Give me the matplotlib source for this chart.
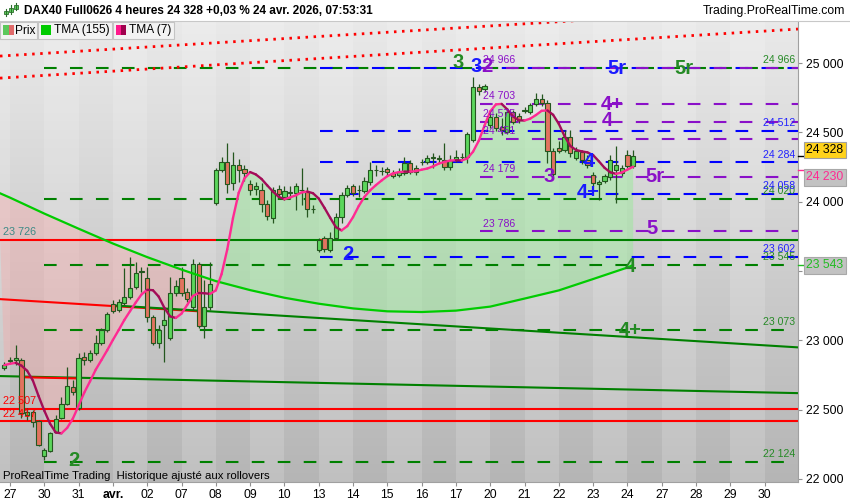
import numpy as np
import pandas as pd
import matplotlib
matplotlib.use('Agg')
import matplotlib.pyplot as plt
from matplotlib.patches import Rectangle
from matplotlib.collections import LineCollection
from matplotlib.lines import Line2D

plt.rcParams['font.family'] = ['Liberation Sans', 'DejaVu Sans']
plt.rcParams['lines.scale_dashes'] = False

# ---------------- data ----------------
day_labels = ['27', '30', '31', 'avr.', '02', '07', '08', '09', '10', '13', '14', '15',
              '16', '17', '20', '21', '22', '23', '24', '27', '28', '29', '30']
candles_per_day = 6
first_candle = -1

opens = [22800, 22857, 22857, 22857, 22461, 22482, 22417, 22165, 22201, 22338, 22439, 22540,
         22663, 22511, 22879, 22857, 22908, 22980, 23074, 23261, 23218, 23268, 23312, 23384,
         23492, 23449, 23167, 22980, 23110, 23016, 23341, 23449, 23348, 23240, 23550, 23103,
         23240, 23990, 24228, 24286, 24134, 24264, 24235, 24127, 24091, 24084, 23983, 23882,
         24091, 24033, 24069, 24062, 24084, 24069, 23947, 23651, 23737, 23651, 23737, 23889,
         24048, 24112, 24084, 24076, 24141, 24228, 24221, 24235, 24206, 24192, 24206, 24278,
         24242, 24286, 24286, 24314, 24314, 24300, 24250, 24300, 24322, 24322, 24444, 24827,
         24812, 24552, 24610, 24538, 24502, 24646, 24617, 24653, 24646, 24704, 24740, 24711,
         24365, 24386, 24372, 24466, 24314, 24358, 24300, 24192, 24127, 24149, 24177, 24228,
         24206, 24336, 24257]
highs = [22843, 22879, 22966, 22872, 22511, 22497, 22425, 22223, 22338, 22461, 22591, 22807,
         22713, 22908, 22915, 22930, 23038, 23088, 23203, 23290, 23297, 23521, 23600, 23564,
         23528, 23528, 23182, 23110, 23240, 23456, 23434, 23528, 23377, 23586, 23564, 23434,
         23564, 24242, 24322, 24423, 24358, 24307, 24264, 24156, 24141, 24134, 24011, 24105,
         24120, 24112, 24112, 24134, 24242, 24105, 23975, 23737, 23752, 23781, 23918, 24069,
         24120, 24127, 24120, 24177, 24286, 24264, 24250, 24250, 24228, 24242, 24322, 24300,
         24264, 24307, 24336, 24350, 24336, 24423, 24336, 24372, 24350, 24502, 24899, 24848,
         24848, 24646, 24639, 24603, 24675, 24661, 24639, 24682, 24711, 24783, 24776, 24733,
         24386, 24437, 24516, 24516, 24394, 24372, 24336, 24213, 24156, 24199, 24336, 24401,
         24264, 24372, 24372]
lows = [22785, 22836, 22821, 22439, 22425, 22374, 22237, 22136, 22194, 22331, 22432, 22533,
        22605, 22497, 22821, 22843, 22893, 22966, 23059, 23196, 23203, 23254, 23297, 23370,
        23348, 23131, 22966, 22944, 22843, 23002, 23319, 23319, 23276, 23218, 23088, 23016,
        23218, 23975, 24213, 24062, 24084, 24141, 24149, 24048, 24048, 23925, 23867, 23846,
        24033, 24011, 24019, 23939, 23975, 23889, 23918, 23636, 23636, 23636, 23723, 23846,
        24033, 24041, 24033, 24062, 24120, 24184, 24192, 24192, 24170, 24177, 24192, 24199,
        24192, 24264, 24271, 24242, 24278, 24228, 24228, 24286, 24300, 24278, 24430, 24769,
        24790, 24531, 24509, 24480, 24488, 24560, 24567, 24639, 24632, 24689, 24689, 24278,
        24177, 24350, 24358, 24322, 24300, 24271, 24242, 24112, 24011, 24134, 24156, 23990,
        24184, 24242, 24242]
closes = [22821, 22860, 22872, 22475, 22482, 22410, 22244, 22208, 22331, 22432, 22540, 22670,
          22627, 22872, 22857, 22908, 22980, 23074, 23189, 23211, 23276, 23312, 23377, 23485,
          23499, 23167, 22980, 23074, 23146, 23341, 23391, 23341, 23297, 23550, 23103, 23240,
          23406, 24228, 24286, 24127, 24264, 24228, 24206, 24084, 24112, 23983, 23896, 24084,
          24055, 24076, 24072, 24112, 24086, 23947, 23950, 23723, 23658, 23737, 23889, 24048,
          24098, 24062, 24086, 24149, 24228, 24230, 24223, 24213, 24184, 24213, 24278, 24213,
          24213, 24288, 24314, 24322, 24307, 24250, 24300, 24322, 24325, 24488, 24827, 24798,
          24834, 24610, 24531, 24516, 24646, 24574, 24588, 24661, 24697, 24740, 24711, 24365,
          24199, 24365, 24466, 24350, 24365, 24300, 24264, 24134, 24141, 24184, 24300, 24264,
          24242, 24257, 24328]

tma155_idx = [-2, 0, 6, 12, 18, 24, 30, 36, 42, 48, 54, 60, 66, 72, 78, 84, 90, 96, 102, 108, 109]
tma155_val = [24065, 24029, 23914, 23805, 23698, 23600, 23510, 23427, 23362, 23307, 23264,
              23230, 23209, 23204, 23214, 23243, 23301, 23360, 23442, 23525, 23543]

green_levels = [24966, 24020, 23545, 23073, 22124]
blue_levels = [24966, 24512, 24284, 24058, 23602]
purple_levels = [24966, 24703, 24575, 24451, 24179, 23786]
red_levels = [22507, 22417]
split_level = 23726
channel_upper = [(-1.75, 25050), (137.83, 25404)]
channel_lower = [(-1.75, 24891), (137.83, 25245)]
trend_a = [(-1.75, 23297), (137.83, 22944)]
trend_b = [(-1.75, 22742), (137.83, 22619)]
last_price = 24328
tma7_last = 24230
tma155_last = 23543
y_ticks = [22000, 22500, 23000, 23500, 24000, 24500, 25000]

# ---------------- layout helpers ----------------
FW, FH = 850, 500
X0, DX = 10.0, 5.717          # pixel of candle 0, pixels per candle
def ix(px):                   # pixel x -> candle index units
    return (px - X0) / DX
def fmt(v):
    return f"{int(v):,}".replace(',', ' ')
def ftext(x, y, s, **kw):
    return fig.text(x / FW, 1 - y / FH, s, **kw)

fig = plt.figure(figsize=(8.5, 5), dpi=100)
fig.patch.set_facecolor('white')
ax = fig.add_axes([0, 18 / FH, 798 / FW, 461 / FH])
xmin, xmax = ix(0), ix(798)
ymin, ymax = 21978, 25303
ax.set_xlim(xmin, xmax)
ax.set_ylim(ymin, ymax)

# background: vertical gradient + alternating day bands
grad = np.linspace(0.915, 0.71, 256)[:, None] * np.ones((1, 2))
ax.imshow(np.dstack([grad] * 3), extent=[xmin, xmax, ymin, ymax], aspect='auto',
          origin='upper', zorder=0, interpolation='bilinear')
for d in range(-1, len(day_labels) + 1):
    if d % 2 != 0:
        ax.axvspan(d * candles_per_day, (d + 1) * candles_per_day, color='white',
                   alpha=0.16, lw=0, zorder=0.5)

# ---------------- indicators ----------------
idx = np.arange(first_candle, first_candle + len(closes))
cl = pd.Series(closes, dtype=float)
tma7 = cl.rolling(4, min_periods=1).mean().rolling(4, min_periods=1).mean().values

# fills between TMA7 and TMA155
t155x = np.array(tma155_idx, float)
t155y = np.array(tma155_val, float)
cross = 36
m1 = t155x <= cross
m2 = idx <= cross
pink_poly = np.vstack([np.column_stack([t155x[m1], t155y[m1]]),
                       np.column_stack([idx[m2][::-1], tma7[m2][::-1]])])
ax.fill(pink_poly[:, 0], pink_poly[:, 1], color=(1.0, 0.62, 0.62), alpha=0.33, lw=0, zorder=1)
m3 = t155x >= cross
m4 = idx >= cross
green_poly = np.vstack([np.column_stack([idx[m4], tma7[m4]]),
                        np.column_stack([t155x[m3][::-1], t155y[m3][::-1]])])
ax.fill(green_poly[:, 0], green_poly[:, 1], color=(0.56, 0.93, 0.56), alpha=0.42, lw=0, zorder=1)

# ---------------- level lines ----------------
LW = 1.5
dash = (0, (9.1, 9.6))
GREEN, BLUE, PURPLE, RED = '#008000', '#0000ff', '#8a10c8', '#ff0000'
ax.hlines(green_levels, ix(44), ix(786), colors=GREEN, linestyles=[dash], lw=LW, zorder=2)
ax.hlines(blue_levels, ix(320), xmax, colors=BLUE, linestyles=[dash], lw=LW, zorder=2.1)
ax.hlines(purple_levels, ix(480), xmax, colors=PURPLE, linestyles=[dash], lw=LW, zorder=2.2)
ax.hlines(red_levels, xmin, xmax, colors=RED, lw=LW, zorder=2)
ax.hlines(split_level, ix(216), xmax, colors=GREEN, lw=LW, zorder=2)
ax.hlines(split_level, xmin, ix(216), colors=RED, lw=LW, zorder=2)
ax.hlines(split_level, ix(320), ix(331), colors=RED, lw=LW, zorder=2.05)

def line_at(line, x):
    (x1, y1), (x2, y2) = line
    return y1 + (y2 - y1) * (np.asarray(x) - x1) / (x2 - x1)

for ln in (channel_upper, channel_lower):
    xs = np.array([xmin, xmax])
    ax.plot(xs, line_at(ln, xs), color=RED, lw=2.0, linestyle=(0, (1.8, 4.0)),
            solid_capstyle='butt', dash_capstyle='butt', zorder=2)

xs = np.array([xmin, ix(205)])
ax.plot(xs, line_at(trend_a, xs), color=RED, lw=LW, zorder=2)
xs = np.array([ix(117), xmax])
ax.plot(xs, line_at(trend_a, xs) + 5, color=GREEN, lw=LW, zorder=2.05)
xs = np.array([xmin, xmax])
ax.plot(xs, line_at(trend_b, xs), color=GREEN, lw=LW, zorder=2)
xs = np.array([ix(21), ix(78)])
ax.plot(xs, line_at(trend_b, xs) - 5, color=RED, lw=LW, zorder=2.05)

# ---------------- candles ----------------
o = np.array(opens, float); h = np.array(highs, float)
l = np.array(lows, float); c = np.array(closes, float)
up = c >= o
EDGE = '#24561f'
ax.vlines(idx, l, h, color=EDGE, lw=0.9, zorder=3)
small = np.abs(c - o) < 6
body = np.where(small, 6, c - o)
ax.bar(idx, body, bottom=np.where(small, np.minimum(o, c) - 3, o), width=0.74,
       color=np.where(up, '#5cd65c', '#e2735f'), edgecolor=EDGE, lw=0.8, zorder=3.1)

# TMA lines
ax.plot(t155x, t155y, color='#00cc00', lw=1.6, zorder=4, solid_capstyle='round')
pts = np.column_stack([idx, tma7])
segs = np.stack([pts[:-1], pts[1:]], axis=1)
cols = ['#ff2a92' if tma7[i + 1] >= tma7[i] else '#a30d58' for i in range(len(tma7) - 1)]
ax.add_collection(LineCollection(segs, colors=cols, lw=1.7, zorder=4.1, capstyle='round'))

# ---------------- axes styling ----------------
for s in ('top', 'left'):
    ax.spines[s].set_visible(False)
ax.spines['right'].set_color('#a0a0a0')
ax.spines['bottom'].set_color('#a0a0a0')
ax.yaxis.tick_right()
ax.set_yticks(y_ticks)
ax.set_yticklabels([fmt(v) for v in y_ticks])
ax.tick_params(axis='y', length=3, width=0.8, color='#909090', pad=2.5, labelsize=8.8)
ticks = [d * candles_per_day for d in range(len(day_labels))]
ax.set_xticks(ticks)
ax.set_xticklabels(day_labels)
ax.tick_params(axis='x', length=3, width=0.8, color='#909090', pad=2, labelsize=8.8)
for t in ax.get_xticklabels():
    if t.get_text() == 'avr.':
        t.set_fontweight('bold')

# level value labels
def lev_label(val, color, px, ha):
    ax.annotate(fmt(val), xy=(ix(px), val), xytext=(0, 5.6), textcoords='offset points',
                ha=ha, va='center', fontsize=7.6, color=color, zorder=6)
for v in green_levels:
    lev_label(v, '#268a26', 795, 'right')
for v in [24512, 24284, 24058, 23602]:
    lev_label(v, '#2222ff', 795, 'right')
for v in purple_levels:
    lev_label(v, PURPLE, 483, 'left')
ftext(3, 232, fmt(split_level), fontsize=7.8, color='#3b8a86', va='center')
ftext(3, 401, fmt(red_levels[0]), fontsize=7.8, color=RED, va='center')
ftext(3, 414, fmt(red_levels[1]), fontsize=7.8, color=RED, va='center')

# big wave labels
big = [('3', 458, 63, '#248a24'), ('3', 476, 67, '#1a1aff'), ('2', 487, 67, PURPLE),
       ('5r', 617, 68, '#1a1aff'), ('5r', 684, 68, '#248a24'),
       ('4+', 612, 104, PURPLE), ('4', 607, 121, PURPLE), ('3', 549, 177, PURPLE),
       ('4', 589, 161, '#1a1aff'), ('4+', 588, 192, '#1a1aff'), ('5r', 655, 177, PURPLE),
       ('5', 652, 229, PURPLE), ('4', 630, 266, '#248a24'), ('4+', 630, 330, '#248a24'),
       ('2', 74, 460, '#248a24'), ('2', 348, 254, '#1a1aff')]
for s, x, y, col in big:
    ftext(x, y, s, fontsize=14.5, fontweight='bold', color=col, ha='center', va='center', zorder=7)

# right axis value boxes
yt = ax.get_yaxis_transform()
for val, col in ((last_price, 'black'), (tma7_last, '#ff2a92'), (tma155_last, '#22bb22')):
    ax.add_line(Line2D([1.0, 1.0 + 7 / 798], [val, val], transform=yt, color=col, lw=1,
                       clip_on=False, zorder=6))
ftext(825, 150, fmt(last_price), fontsize=8.8, color='black', ha='center', va='center',
      bbox=dict(boxstyle='square,pad=0.18', fc='#ffd21a', ec='#a0a0a0', lw=0.8))
ftext(825, 177.5, fmt(tma7_last), fontsize=8.8, color='#ff2a92', ha='center', va='center',
      bbox=dict(boxstyle='square,pad=0.18', fc='#c2c2c2', ec='#a8a8a8', lw=0.8))
ftext(825, 265.5, fmt(tma155_last), fontsize=8.8, color='#22bb22', ha='center', va='center',
      bbox=dict(boxstyle='square,pad=0.18', fc='#c2c2c2', ec='#a8a8a8', lw=0.8))

# ---------------- header ----------------
fig.add_artist(Line2D([0, 1], [1 - 20.5 / FH] * 2, transform=fig.transFigure, color='#c8c8c8', lw=0.8))
for cx, yb, yt_, ob, cb in ((6, 16, 9, 14, 11), (11, 14, 5, 12, 8), (16, 10, 3, 9, 5)):
    fig.add_artist(Line2D([cx / FW] * 2, [1 - yb / FH, 1 - yt_ / FH], transform=fig.transFigure,
                          color='#2e6e2e', lw=0.8))
    fig.add_artist(Rectangle(((cx - 1.6) / FW, 1 - ob / FH), 3.2 / FW, (ob - cb) / FH,
                             transform=fig.transFigure, fc='#5cd65c', ec='#2e6e2e', lw=0.6))
ftext(24, 11, 'DAX40 Full0626 4 heures 24 328 +0,03 % 24 avr. 2026, 07:53:31', fontsize=8.5,
      fontweight='bold', va='center', ha='left')
ftext(845, 11, 'Trading.ProRealTime.com', fontsize=8.8, va='center', ha='right')

# legend boxes
for x0, w in ((0, 37), (38, 74), (113, 61)):
    fig.add_artist(Rectangle((x0 / FW, 1 - 39 / FH), w / FW, 17 / FH, transform=fig.transFigure,
                             fc='#f3f3f3', ec='#c4c4c4', lw=0.8))
def icon(x, w, col):
    fig.add_artist(Rectangle((x / FW, 1 - 35 / FH), w / FW, 10 / FH, transform=fig.transFigure,
                             fc=col, ec='none'))
icon(3, 5.5, '#5cc85c'); icon(8.5, 5.5, '#e06a6a')
icon(41, 10, '#00cc00')
icon(116, 5, '#ff1a8c'); icon(121, 5, '#a0004e')
ftext(15.5, 30.5, 'Prix', fontsize=8.6, va='center')
ftext(54, 30.5, 'TMA (155)', fontsize=8.6, va='center')
ftext(129, 30.5, 'TMA (7)', fontsize=8.6, va='center')

ftext(3, 476, 'ProRealTime Trading  Historique ajusté aux rollovers', fontsize=8.2, va='center')

fig.savefig('out.png', dpi=100)
